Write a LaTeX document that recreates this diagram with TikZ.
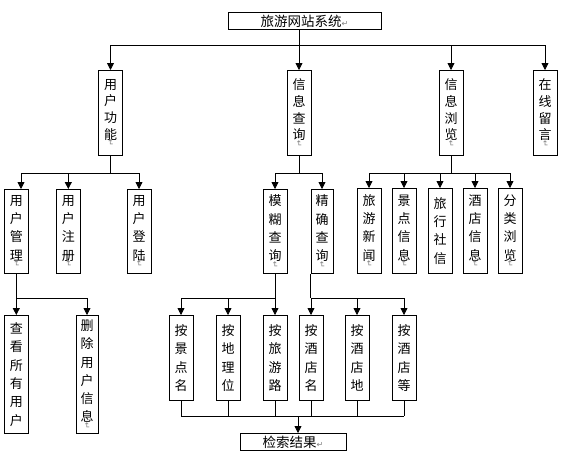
\documentclass[tikz,border=0pt]{standalone}
\usepackage{fontspec}
\newfontfamily\cjk{Noto Sans CJK SC}
\newfontfamily\dvs{DejaVu Sans}
\usetikzlibrary{arrows.meta}
\newcommand\vmk{{\dvs\fontsize{8}{8}\selectfont\color{gray}\rotatebox[origin=c]{-90}{↵}}}
\newcommand\hmk{{\dvs\fontsize{8}{8}\selectfont\color{gray}↵}}
\begin{document}
\begin{tikzpicture}[x=1pt,y=-1pt,
  every path/.style={line width=0.8pt},
  arr/.style={-{Triangle[length=7pt,width=7pt]}},
  vbox/.style={draw, inner sep=0pt, minimum width=24pt, anchor=north, align=center,
    font=\cjk\fontsize{13}{18.3}\selectfont},
  hbox/.style={draw, inner sep=0pt, minimum height=17pt, anchor=north,
    font=\cjk\fontsize{13.5}{16}\selectfont}]
\useasboundingbox (0,0) rectangle (584,456);
\fill[white] (0,0) rectangle (584,456);

% top
\node[hbox, minimum width=153pt] (title) at (304.5,12) {旅游网站系统\hmk};

% level 1
\begin{scope}[vbox/.append style={minimum height=85pt, font=\cjk\fontsize{13}{16.8}\selectfont}]
\node[vbox] (uf) at (110.5,70) {用\\户\\功\\能\\[-10.5pt]\vmk};
\node[vbox] (xc) at (299,70) {信\\息\\查\\询\\[-10.5pt]\vmk};
\node[vbox] (xl) at (451,70) {信\\息\\浏\\览\\[-10.5pt]\vmk};
\node[vbox] (zx) at (545,70) {在\\线\\留\\言\\[-10.5pt]\vmk};
\end{scope}

% level 2
\begin{scope}[vbox/.append style={minimum height=84pt}]
\node[vbox] (yg) at (16.3,189) {用\\户\\管\\理\\[-12pt]\vmk};
\node[vbox] (yz) at (68.3,189) {用\\户\\注\\册\\[-12pt]\vmk};
\node[vbox] (yd) at (139,189) {用\\户\\登\\陆\\[-12pt]\vmk};
\node[vbox] (mh) at (275,189) {模\\糊\\查\\询\\[-12pt]\vmk};
\node[vbox, minimum width=22pt] (jq) at (322,189) {精\\确\\查\\询\\[-12pt]\vmk};
\end{scope}
\begin{scope}[vbox/.append style={minimum height=85pt}]
\node[vbox] (xw) at (369,188) {旅\\游\\新\\闻\\[-12pt]\vmk};
\node[vbox] (jd) at (404,188) {景\\点\\信\\息\\[-12pt]\vmk};
\node[vbox] (lx) at (440,188) {旅\\行\\社\\信};
\node[vbox] (jx) at (475,188) {酒\\店\\信\\息\\[-12pt]\vmk};
\node[vbox] (fl) at (510,188) {分\\类\\浏\\览\\[-12pt]\vmk};
\end{scope}

% level 3
\begin{scope}[vbox/.append style={minimum height=118pt}]
\node[vbox] (ck) at (16.3,315) {查\\看\\所\\有\\用\\户};
\node[vbox, minimum width=22pt] (sc) at (87,315) {删\\除\\用\\户\\信\\息\\[-12pt]\vmk};
\end{scope}
\begin{scope}[vbox/.append style={minimum height=85pt}]
\node[vbox] (a1) at (181,315) {按\\景\\点\\名};
\node[vbox] (a2) at (228,315) {按\\地\\理\\位};
\node[vbox] (a3) at (275,315) {按\\旅\\游\\路};
\node[vbox] (a4) at (311,315) {按\\酒\\店\\名};
\node[vbox] (a5) at (357,315) {按\\酒\\店\\地};
\node[vbox] (a6) at (404,315) {按\\酒\\店\\等};
\end{scope}

% result
\node[hbox, minimum width=106pt] (res) at (293,433) {检索结果\hmk};

% bus coordinates
\coordinate (h0) at (0,45);
\coordinate (h1) at (0,173);
\coordinate (h2) at (0,298);
\coordinate (h3) at (0,416);
\coordinate (c1) at (21,173);
\coordinate (c2) at (298,416);

% title -> level 1
\draw (title.south -| xc) -- (h0 -| xc);
\draw (h0 -| uf) -- (h0 -| zx);
\foreach \n in {uf,xc,xl,zx} \draw[arr] (h0 -| \n) -- (\n.north);

% user functions
\draw (uf.south) -- (h1 -| uf);
\draw (c1) -- (h1 -| yd);
\draw[arr] (c1) -- (c1 |- yg.north);
\foreach \n in {yz,yd} \draw[arr] (h1 -| \n) -- (\n.north);

% info query
\draw (xc.south) -- (h1 -| xc);
\draw (h1 -| mh) -- (h1 -| jq);
\foreach \n in {mh,jq} \draw[arr] (h1 -| \n) -- (\n.north);

% info browse
\draw (xl.south) -- (h1 -| xl);
\draw (h1 -| xw) -- (h1 -| fl);
\foreach \n in {xw,jd,lx,jx,fl} \draw[arr] (h1 -| \n) -- (\n.north);

% user management
\draw (yg.south) -- (h2 -| yg);
\draw (h2 -| ck) -- (h2 -| sc);
\foreach \n in {ck,sc} \draw[arr] (h2 -| \n) -- (\n.north);

% fuzzy query
\draw (mh.south) -- (h2 -| mh);
\draw (h2 -| a1) -- (h2 -| a3);
\foreach \n in {a1,a2,a3} \draw[arr] (h2 -| \n) -- (\n.north);

% exact query
\draw (jq.south west) -- (h2 -| jq.south west);
\draw (h2 -| a4) -- (h2 -| a6);
\foreach \n in {a4,a5,a6} \draw[arr] (h2 -| \n) -- (\n.north);

% results
\foreach \n in {a1,a2,a3,a4,a5,a6} \draw (\n.south) -- (h3 -| \n);
\draw (h3 -| a1) -- (h3 -| a6);
\draw[arr] (c2) -- (c2 |- res.north);
\end{tikzpicture}
\end{document}
